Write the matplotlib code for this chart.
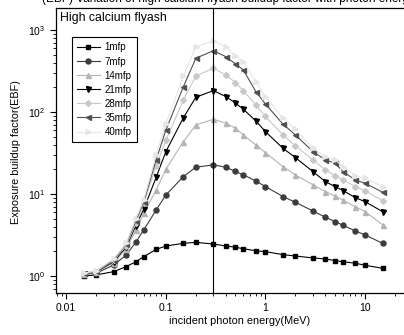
import numpy as np
import matplotlib
matplotlib.use("Agg")
import matplotlib.pyplot as plt

plt.rcParams['font.family'] = ['Liberation Sans', 'DejaVu Sans']

# incident photon energy (MeV)
energy = [0.015, 0.02, 0.03, 0.04, 0.05, 0.06, 0.08, 0.1, 0.15, 0.2, 0.3, 0.4,
          0.5, 0.6, 0.8, 1, 1.5, 2, 3, 4, 5, 6, 8, 10, 15]

# exposure buildup factor at each penetration depth
ebf_1 = [1.0, 1.03, 1.13, 1.30, 1.49, 1.72, 2.11, 2.32, 2.50, 2.57, 2.45, 2.32,
         2.24, 2.15, 2.03, 1.98, 1.82, 1.75, 1.66, 1.61, 1.54, 1.49, 1.43, 1.35, 1.24]
ebf_7 = [1.05, 1.08, 1.36, 1.80, 2.58, 3.64, 6.38, 9.7, 16.3, 21.2, 22.6, 21.2,
         18.8, 17.1, 14.4, 12.3, 9.3, 7.9, 6.2, 5.2, 4.6, 4.15, 3.54, 3.16, 2.50]
ebf_14 = [1.06, 1.11, 1.45, 2.15, 3.6, 5.8, 11.2, 20.0, 43.4, 69.4, 81.5, 72.8,
          63.3, 52.4, 39.6, 31.9, 21.5, 17.1, 12.9, 10.7, 9.44, 8.4, 7.0, 6.1, 4.19]
ebf_21 = [1.07, 1.12, 1.50, 2.25, 4.1, 6.5, 16.0, 32.8, 85, 151, 182, 154,
          128, 108, 77.6, 57.5, 36, 27.7, 18.7, 14.1, 12.3, 11.0, 9.0, 8.05, 6.08]
ebf_28 = [1.07, 1.13, 1.55, 2.35, 4.4, 7.7, 22, 45, 140, 275, 341, 282,
          228, 181, 122, 88, 52.4, 38.5, 26, 19.6, 16.6, 14.8, 12.3, 10.9, 8.3]
ebf_35 = [1.08, 1.14, 1.58, 2.45, 4.7, 8.0, 26, 60, 203, 451, 558, 472,
          385, 325, 177, 125, 70.8, 52.4, 32.8, 26, 23.7, 18.7, 14.8, 13.5, 10.5]
ebf_40 = [1.08, 1.15, 1.62, 2.5, 5.0, 8.4, 30, 72, 271, 625, 740, 625,
          480, 410, 234, 154, 84, 61.5, 36, 28.5, 26, 21.5, 16.6, 15.5, 12.3]

labels = ['1mfp', '7mfp', '14mfp', '21mfp', '28mfp', '35mfp', '40mfp']
series = [ebf_1, ebf_7, ebf_14, ebf_21, ebf_28, ebf_35, ebf_40]
colors = ['#000000', '#3c3c3c', '#b4b4b4', '#000000', '#c8c8c8', '#505050', '#e6e6e6']
markers = ['s', 'o', '^', 'v', 'D', '<', '>']
msizes = [3.2, 3.6, 3.6, 3.6, 3.0, 3.6, 3.6]

fig = plt.figure(figsize=(4.04, 3.35), dpi=100)
ax = fig.add_axes([56/404, 42/335, 368/404, 285/335])

for y, lab, c, m, ms in zip(series, labels, colors, markers, msizes):
    ax.plot(energy, y, color=c, marker=m, markersize=ms, lw=0.8,
            markeredgecolor=c, label=lab)

ax.axvline(0.3, color='black', lw=0.8)

ax.set_xscale('log')
ax.set_yscale('log')
ax.set_xlim(0.0079, 39)
ax.set_ylim(0.62, 1850)
ax.set_xticks([0.01, 0.1, 1, 10])
ax.set_xticklabels(['0.01', '0.1', '1', '10'])
ax.tick_params(which='major', length=4, width=0.8, labelsize=7.5, direction='out')
ax.tick_params(which='minor', length=2, width=0.6, direction='out')
for s in ax.spines.values():
    s.set_linewidth(0.9)

ax.text(0.01, 0.985, 'High calcium flyash', transform=ax.transAxes,
        fontsize=8.8, va='top', ha='left')

leg = ax.legend(loc='upper left', bbox_to_anchor=(0.043, 0.898), borderaxespad=0,
                fontsize=7, frameon=True, fancybox=False, edgecolor='black',
                framealpha=1, handlelength=2.3, labelspacing=0.42, borderpad=0.55,
                handletextpad=0.5)
leg.get_frame().set_linewidth(0.8)

fig.text(240/404, 1 - 321/335, 'incident photon energy(MeV)', fontsize=7.8,
         ha='center', va='center')
fig.text(16/404, 1 - 152/335, 'Exposure buildup factor(EBF)', fontsize=7.8,
         ha='center', va='center', rotation=90)
fig.text(42/404, 1 - 2/335, '(EBF) Variation of high calcium flyash buildup factor with photon energy',
         fontsize=8.5, ha='left', va='baseline')

fig.savefig('out.png', dpi=100)
